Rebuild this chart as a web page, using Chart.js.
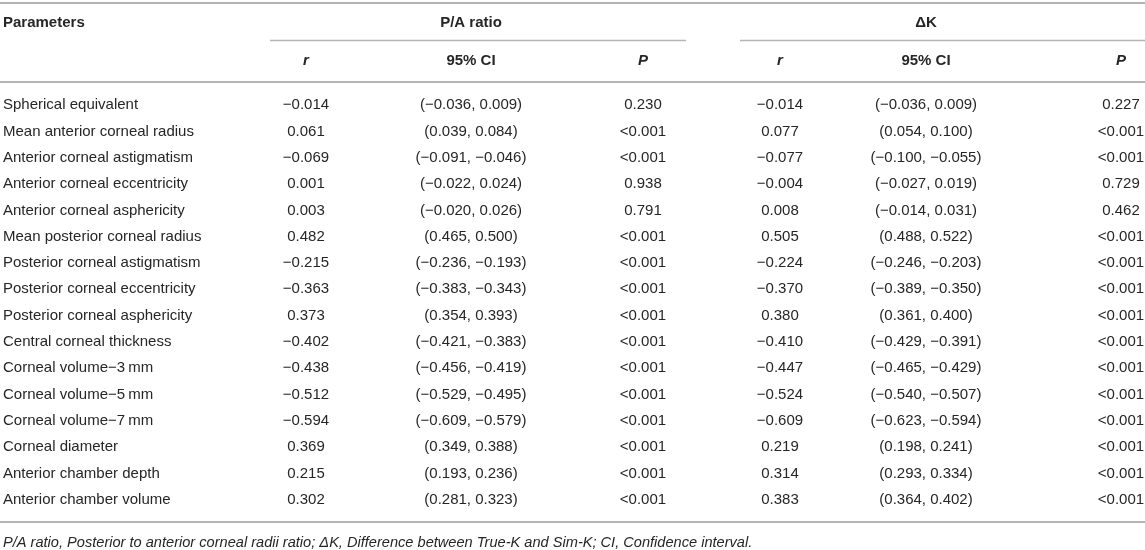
<!DOCTYPE html>
<html>
<head>
<meta charset="utf-8">
<title>P/A ratio and ΔK correlations</title>
<script src="https://cdn.jsdelivr.net/npm/chart.js@4.4.1/dist/chart.umd.min.js"></script>
<style>
  html, body { margin: 0; padding: 0; background: #fff; }
  #wrap { position: relative; width: 1145px; height: 550px; }
</style>
</head>
<body>
<div id="wrap"><canvas id="table"></canvas></div>
<script>
// Table values
const parameters = [
  'Spherical equivalent',
  'Mean anterior corneal radius',
  'Anterior corneal astigmatism',
  'Anterior corneal eccentricity',
  'Anterior corneal asphericity',
  'Mean posterior corneal radius',
  'Posterior corneal astigmatism',
  'Posterior corneal eccentricity',
  'Posterior corneal asphericity',
  'Central corneal thickness',
  'Corneal volume\u22123\u2009mm',
  'Corneal volume\u22125\u2009mm',
  'Corneal volume\u22127\u2009mm',
  'Corneal diameter',
  'Anterior chamber depth',
  'Anterior chamber volume'
];

// P/A ratio
const paR = [-0.014, 0.061, -0.069, 0.001, 0.003, 0.482, -0.215, -0.363, 0.373, -0.402, -0.438, -0.512, -0.594, 0.369, 0.215, 0.302];
const paLow = [-0.036, 0.039, -0.091, -0.022, -0.020, 0.465, -0.236, -0.383, 0.354, -0.421, -0.456, -0.529, -0.609, 0.349, 0.193, 0.281];
const paHigh = [0.009, 0.084, -0.046, 0.024, 0.026, 0.500, -0.193, -0.343, 0.393, -0.383, -0.419, -0.495, -0.579, 0.388, 0.236, 0.323];
const paP = ['0.230', '<0.001', '<0.001', '0.938', '0.791', '<0.001', '<0.001', '<0.001', '<0.001', '<0.001', '<0.001', '<0.001', '<0.001', '<0.001', '<0.001', '<0.001'];

// Delta K
const dkR = [-0.014, 0.077, -0.077, -0.004, 0.008, 0.505, -0.224, -0.370, 0.380, -0.410, -0.447, -0.524, -0.609, 0.219, 0.314, 0.383];
const dkLow = [-0.036, 0.054, -0.100, -0.027, -0.014, 0.488, -0.246, -0.389, 0.361, -0.429, -0.465, -0.540, -0.623, 0.198, 0.293, 0.364];
const dkHigh = [0.009, 0.100, -0.055, 0.019, 0.031, 0.522, -0.203, -0.350, 0.400, -0.391, -0.429, -0.507, -0.594, 0.241, 0.334, 0.402];
const dkP = ['0.227', '<0.001', '<0.001', '0.729', '0.462', '<0.001', '<0.001', '<0.001', '<0.001', '<0.001', '<0.001', '<0.001', '<0.001', '<0.001', '<0.001', '<0.001'];

const groupTitles = ['P/A ratio', '\u0394K'];
const subHeaders = ['r', '95% CI', 'P'];
const footnote = 'P/A ratio, Posterior to anterior corneal radii ratio; \u0394K, Difference between True-K and Sim-K; CI, Confidence interval.';

// Layout (x positions are in units of the hidden linear axis)
const colX = [3, 306, 471, 643, 780, 926, 1121];
const groupSpan = [[270, 686], [740, 1145]];
const FONT = '"Liberation Sans", Arial, Helvetica, sans-serif';
const INK = '#262626';
const RULE = '#b4b4b4';

function fmt(v) {
  return v.toFixed(3).replace('-', '\u2212');
}
function ci(lo, hi) {
  return '(' + fmt(lo) + ', ' + fmt(hi) + ')';
}

const columns = [
  { texts: parameters, align: 'left' },
  { texts: paR.map(fmt), align: 'center' },
  { texts: paLow.map((v, i) => ci(v, paHigh[i])), align: 'center' },
  { texts: paP, align: 'center' },
  { texts: dkR.map(fmt), align: 'center' },
  { texts: dkLow.map((v, i) => ci(v, dkHigh[i])), align: 'center' },
  { texts: dkP, align: 'center' }
];

const tablePlugin = {
  id: 'tableCells',
  afterDatasetsDraw(chart) {
    const ctx = chart.ctx;
    const xs = chart.scales.x;
    const W = chart.width;
    ctx.save();

    // rules
    ctx.strokeStyle = RULE;
    ctx.lineWidth = 2;
    [3, 82, 522].forEach(y => {
      ctx.beginPath();
      ctx.moveTo(0, y);
      ctx.lineTo(W, y);
      ctx.stroke();
    });
    ctx.lineWidth = 1.3;
    groupSpan.forEach(s => {
      ctx.beginPath();
      ctx.moveTo(xs.getPixelForValue(s[0]), 40.5);
      ctx.lineTo(xs.getPixelForValue(s[1]), 40.5);
      ctx.stroke();
    });

    // headers
    ctx.fillStyle = INK;
    ctx.textBaseline = 'middle';
    ctx.font = 'bold 15px ' + FONT;
    ctx.textAlign = 'left';
    ctx.fillText('Parameters', xs.getPixelForValue(colX[0]), 23);
    ctx.textAlign = 'center';
    ctx.fillText(groupTitles[0], xs.getPixelForValue(colX[2]), 23);
    ctx.fillText(groupTitles[1], xs.getPixelForValue(colX[5]), 23);
    for (let g = 0; g < 2; g++) {
      subHeaders.forEach((h, k) => {
        const x = xs.getPixelForValue(colX[1 + g * 3 + k]);
        ctx.font = (h === '95% CI' ? 'bold 15px ' : 'italic bold 15px ') + FONT;
        ctx.fillText(h, x, 61);
      });
    }

    // body cells, positioned by the dataset elements
    ctx.font = '15px ' + FONT;
    chart.data.datasets.forEach((ds, d) => {
      const meta = chart.getDatasetMeta(d);
      ctx.textAlign = columns[d].align;
      meta.data.forEach((pt, i) => {
        ctx.fillText(columns[d].texts[i], pt.x, pt.y);
      });
    });

    // footnote
    ctx.font = 'italic 14.6px ' + FONT;
    ctx.textAlign = 'left';
    ctx.fillText(footnote, xs.getPixelForValue(colX[0]), 543);
    ctx.restore();
  }
};

new Chart(document.getElementById('table'), {
  type: 'scatter',
  data: {
    labels: parameters,
    datasets: columns.map((c, d) => ({
      data: parameters.map(p => ({ x: colX[d], y: p })),
      pointRadius: 0,
      pointHoverRadius: 0
    }))
  },
  options: {
    responsive: true,
    maintainAspectRatio: false,
    animation: false,
    events: [],
    layout: { padding: { top: 92, bottom: 37, left: 0, right: 0 } },
    scales: {
      x: { type: 'linear', min: 0, max: 1145, display: false },
      y: { type: 'category', labels: parameters, offset: true, display: false }
    },
    plugins: {
      legend: { display: false },
      tooltip: { enabled: false }
    }
  },
  plugins: [tablePlugin]
});
</script>
</body>
</html>
